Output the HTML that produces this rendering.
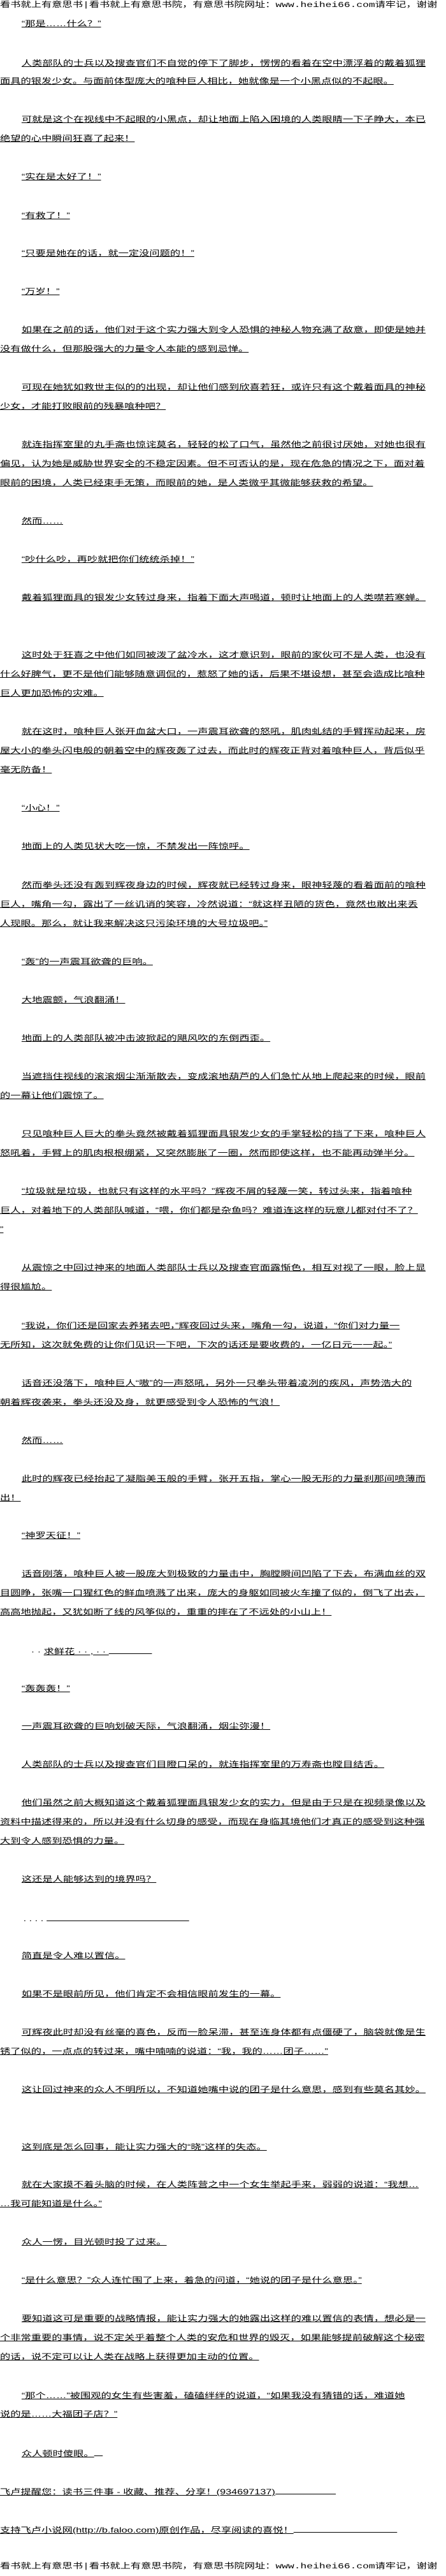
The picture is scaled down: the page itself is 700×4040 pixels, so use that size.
<!DOCTYPE html>
<html><head><meta charset="utf-8">
<style>
html,body{margin:0;padding:0;background:#fff;}
body{width:700px;height:4040px;overflow:hidden;position:relative;}
#w{position:absolute;left:0;top:0;width:505px;height:4040px;transform:scaleX(1.355);transform-origin:0 0;}
.l{position:absolute;left:0;height:14px;line-height:13px;font-size:12px;white-space:nowrap;color:#000;
font-family:"Liberation Sans","Noto Sans CJK SC","WenQuanYi Zen Hei",sans-serif;}
.l span{text-decoration:underline;}
.i{left:25px;}
.h{font-family:"Liberation Mono","Noto Sans CJK SC",monospace;}
.h span{text-decoration:none;}
.u{display:inline-block;border-bottom:1px solid #000;height:11px;vertical-align:baseline;}
</style></head><body><div id="w">
<div class="l h" style="top:2px"><span>看书就上有意思书|看书就上有意思书院，有意思书院网址：www.heihei66.com请牢记，谢谢</span></div>
<div class="l i" style="top:31px"><span>“那是……什么？”</span></div>
<div class="l i" style="top:93px"><span>人类部队的士兵以及搜查官们不自觉的停下了脚步，愣愣的看着在空中漂浮着的戴着狐狸</span></div>
<div class="l" style="top:121px"><span>面具的银发少女。与面前体型庞大的喰种巨人相比，她就像是一个小黑点似的不起眼。</span></div>
<div class="l i" style="top:181px"><span>可就是这个在视线中不起眼的小黑点，却让地面上陷入困境的人类眼睛一下子睁大，本已</span></div>
<div class="l" style="top:211px"><span>绝望的心中瞬间狂喜了起来！</span></div>
<div class="l i" style="top:271px"><span>“实在是太好了！”</span></div>
<div class="l i" style="top:332px"><span>“有救了！”</span></div>
<div class="l i" style="top:391px"><span>“只要是她在的话，就一定没问题的！”</span></div>
<div class="l i" style="top:451px"><span>“万岁！”</span></div>
<div class="l i" style="top:511px"><span>如果在之前的话，他们对于这个实力强大到令人恐惧的神秘人物充满了敌意，即使是她并</span></div>
<div class="l" style="top:541px"><span>没有做什么，但那股强大的力量令人本能的感到忌惮。</span></div>
<div class="l i" style="top:601px"><span>可现在她犹如救世主似的的出现，却让他们感到欣喜若狂，或许只有这个戴着面具的神秘</span></div>
<div class="l" style="top:631px"><span>少女，才能打败眼前的残暴喰种吧？</span></div>
<div class="l i" style="top:691px"><span>就连指挥室里的丸手斋也惊诧莫名，轻轻的松了口气，虽然他之前很讨厌她，对她也很有</span></div>
<div class="l" style="top:721px"><span>偏见，认为她是威胁世界安全的不稳定因素。但不可否认的是，现在危急的情况之下，面对着</span></div>
<div class="l" style="top:751px"><span>眼前的困境，人类已经束手无策，而眼前的她，是人类微乎其微能够获救的希望。</span></div>
<div class="l i" style="top:811px"><span>然而……</span></div>
<div class="l i" style="top:871px"><span>“吵什么吵，再吵就把你们统统杀掉！”</span></div>
<div class="l i" style="top:931px"><span>戴着狐狸面具的银发少女转过身来，指着下面大声喝道，顿时让地面上的人类噤若寒蝉。</span></div>
<div class="l i" style="top:1021px"><span>这时处于狂喜之中他们如同被泼了盆冷水，这才意识到，眼前的家伙可不是人类，也没有</span></div>
<div class="l" style="top:1051px"><span>什么好脾气，更不是他们能够随意调侃的，惹怒了她的话，后果不堪设想，甚至会造成比喰种</span></div>
<div class="l" style="top:1081px"><span>巨人更加恐怖的灾难。</span></div>
<div class="l i" style="top:1141px"><span>就在这时，喰种巨人张开血盆大口，一声震耳欲聋的怒吼，肌肉虬结的手臂挥动起来，房</span></div>
<div class="l" style="top:1171px"><span>屋大小的拳头闪电般的朝着空中的辉夜轰了过去，而此时的辉夜正背对着喰种巨人，背后似乎</span></div>
<div class="l" style="top:1201px"><span>毫无防备！</span></div>
<div class="l i" style="top:1261px"><span>“小心！”</span></div>
<div class="l i" style="top:1321px"><span>地面上的人类见状大吃一惊，不禁发出一阵惊呼。</span></div>
<div class="l i" style="top:1382px"><span>然而拳头还没有轰到辉夜身边的时候，辉夜就已经转过身来，眼神轻蔑的看着面前的喰种</span></div>
<div class="l" style="top:1412px"><span>巨人，嘴角一勾，露出了一丝讥诮的笑容，冷然说道：“就这样丑陋的货色，竟然也敢出来丢</span></div>
<div class="l" style="top:1442px"><span>人现眼。那么，就让我来解决这只污染环境的大号垃圾吧。”</span></div>
<div class="l i" style="top:1502px"><span>“轰”的一声震耳欲聋的巨响。</span></div>
<div class="l i" style="top:1562px"><span>大地震颤，气浪翻涌！</span></div>
<div class="l i" style="top:1622px"><span>地面上的人类部队被冲击波掀起的飓风吹的东倒西歪。</span></div>
<div class="l i" style="top:1682px"><span>当遮挡住视线的滚滚烟尘渐渐散去，变成滚地葫芦的人们急忙从地上爬起来的时候，眼前</span></div>
<div class="l" style="top:1712px"><span>的一幕让他们震惊了。</span></div>
<div class="l i" style="top:1772px"><span>只见喰种巨人巨大的拳头竟然被戴着狐狸面具银发少女的手掌轻松的挡了下来，喰种巨人</span></div>
<div class="l" style="top:1802px"><span>怒吼着，手臂上的肌肉根根绷紧，又突然膨胀了一圈，然而即使这样，也不能再动弹半分。</span></div>
<div class="l i" style="top:1862px"><span>“垃圾就是垃圾，也就只有这样的水平吗？”辉夜不屑的轻蔑一笑，转过头来，指着喰种</span></div>
<div class="l" style="top:1892px"><span>巨人，对着地下的人类部队喊道，“喂，你们都是杂鱼吗？难道连这样的玩意儿都对付不了？</span></div>
<div class="l" style="top:1922px"><span>”</span></div>
<div class="l i" style="top:1982px"><span>从震惊之中回过神来的地面人类部队士兵以及搜查官面露惭色，相互对视了一眼，脸上显</span></div>
<div class="l" style="top:2012px"><span>得很尴尬。</span></div>
<div class="l i" style="top:2073px"><span>“我说，你们还是回家去养猪去吧，”辉夜回过头来，嘴角一勾，说道，“你们对力量一</span></div>
<div class="l" style="top:2103px"><span>无所知，这次就免费的让你们见识一下吧，下次的话还是要收费的，一亿日元一一起。”</span></div>
<div class="l i" style="top:2163px"><span>话音还没落下，喰种巨人“嗷”的一声怒吼，另外一只拳头带着凌冽的疾风，声势浩大的</span></div>
<div class="l" style="top:2193px"><span>朝着辉夜袭来，拳头还没及身，就更感受到令人恐怖的气浪！</span></div>
<div class="l i" style="top:2253px"><span>然而……</span></div>
<div class="l i" style="top:2313px"><span>此时的辉夜已经抬起了凝脂美玉般的手臂，张开五指，掌心一股无形的力量刹那间喷薄而</span></div>
<div class="l" style="top:2343px"><span>出！</span></div>
<div class="l i" style="top:2402px"><span>“神罗天征！”</span></div>
<div class="l i" style="top:2462px"><span>话音刚落，喰种巨人被一股庞大到极致的力量击中，胸膛瞬间凹陷了下去，布满血丝的双</span></div>
<div class="l" style="top:2492px"><span>目圆睁，张嘴一口猩红色的鲜血喷溅了出来，庞大的身躯如同被火车撞了似的，倒飞了出去，</span></div>
<div class="l" style="top:2522px"><span>高高地抛起，又犹如断了线的风筝似的，重重的摔在了不远处的小山上！</span></div>
<div class="l" style="top:2582px;left:36px">· · <span>求鲜花 · · , · · </span><span class="u" style="width:50px"></span></div>
<div class="l i" style="top:2642px"><span>“轰轰轰！”</span></div>
<div class="l i" style="top:2701px"><span>一声震耳欲聋的巨响划破天际，气浪翻涌，烟尘弥漫！</span></div>
<div class="l i" style="top:2761px"><span>人类部队的士兵以及搜查官们目瞪口呆的，就连指挥室里的万寿斋也瞠目结舌。</span></div>
<div class="l i" style="top:2821px"><span>他们虽然之前大概知道这个戴着狐狸面具银发少女的实力，但是由于只是在视频录像以及</span></div>
<div class="l" style="top:2851px"><span>资料中描述得来的，所以并没有什么切身的感受，而现在身临其境他们才真正的感受到这种强</span></div>
<div class="l" style="top:2881px"><span>大到令人感到恐惧的力量。</span></div>
<div class="l i" style="top:2941px"><span>这还是人能够达到的境界吗？</span></div>
<div class="l" style="top:3001px;left:27px">. . . . <span class="u" style="width:165px"></span></div>
<div class="l i" style="top:3061px"><span>简直是令人难以置信。</span></div>
<div class="l i" style="top:3121px"><span>如果不是眼前所见，他们肯定不会相信眼前发生的一幕。</span></div>
<div class="l i" style="top:3181px"><span>可辉夜此时却没有丝毫的喜色，反而一脸呆滞，甚至连身体都有点僵硬了，脑袋就像是生</span></div>
<div class="l" style="top:3211px"><span>锈了似的，一点点的转过来，嘴中喃喃的说道：“我，我的……团子……”</span></div>
<div class="l i" style="top:3271px"><span>这让回过神来的众人不明所以，不知道她嘴中说的团子是什么意思，感到有些莫名其妙。</span></div>
<div class="l i" style="top:3361px"><span>这到底是怎么回事，能让实力强大的“晓”这样的失态。</span></div>
<div class="l i" style="top:3420px"><span>就在大家摸不着头脑的时候，在人类阵营之中一个女生举起手来，弱弱的说道：“我想…</span></div>
<div class="l" style="top:3450px"><span>…我可能知道是什么。”</span></div>
<div class="l i" style="top:3510px"><span>众人一愣，目光顿时投了过来。</span></div>
<div class="l i" style="top:3570px"><span>“是什么意思？”众人连忙围了上来，着急的问道，“她说的团子是什么意思。”</span></div>
<div class="l i" style="top:3630px"><span>要知道这可是重要的战略情报，能让实力强大的她露出这样的难以置信的表情，想必是一</span></div>
<div class="l" style="top:3660px"><span>个非常重要的事情，说不定关乎着整个人类的安危和世界的毁灭，如果能够提前破解这个秘密</span></div>
<div class="l" style="top:3690px"><span>的话，说不定可以让人类在战略上获得更加主动的位置。</span></div>
<div class="l i" style="top:3751px"><span>“那个……”被围观的女生有些害羞，磕磕绊绊的说道，“如果我没有猜错的话，难道她</span></div>
<div class="l" style="top:3780px"><span>说的是……大福团子店？”</span></div>
<div class="l i" style="top:3840px"><span>众人顿时傻眼。</span><span class="u" style="width:10px"></span></div>
<div class="l" style="top:3900px"><span>飞卢提醒您：读书三件事 - 收藏、推荐、分享！(934697137)</span><span class="u" style="width:70px"></span></div>
<div class="l" style="top:3960px"><span>支持飞卢小说网(http://b.faloo.com)原创作品，尽享阅读的喜悦！</span><span class="u" style="width:120px"></span></div>
<div class="l h" style="top:4019px"><span>看书就上有意思书|看书就上有意思书院，有意思书院网址：www.heihei66.com请牢记，谢谢</span></div>
</div></body></html>
